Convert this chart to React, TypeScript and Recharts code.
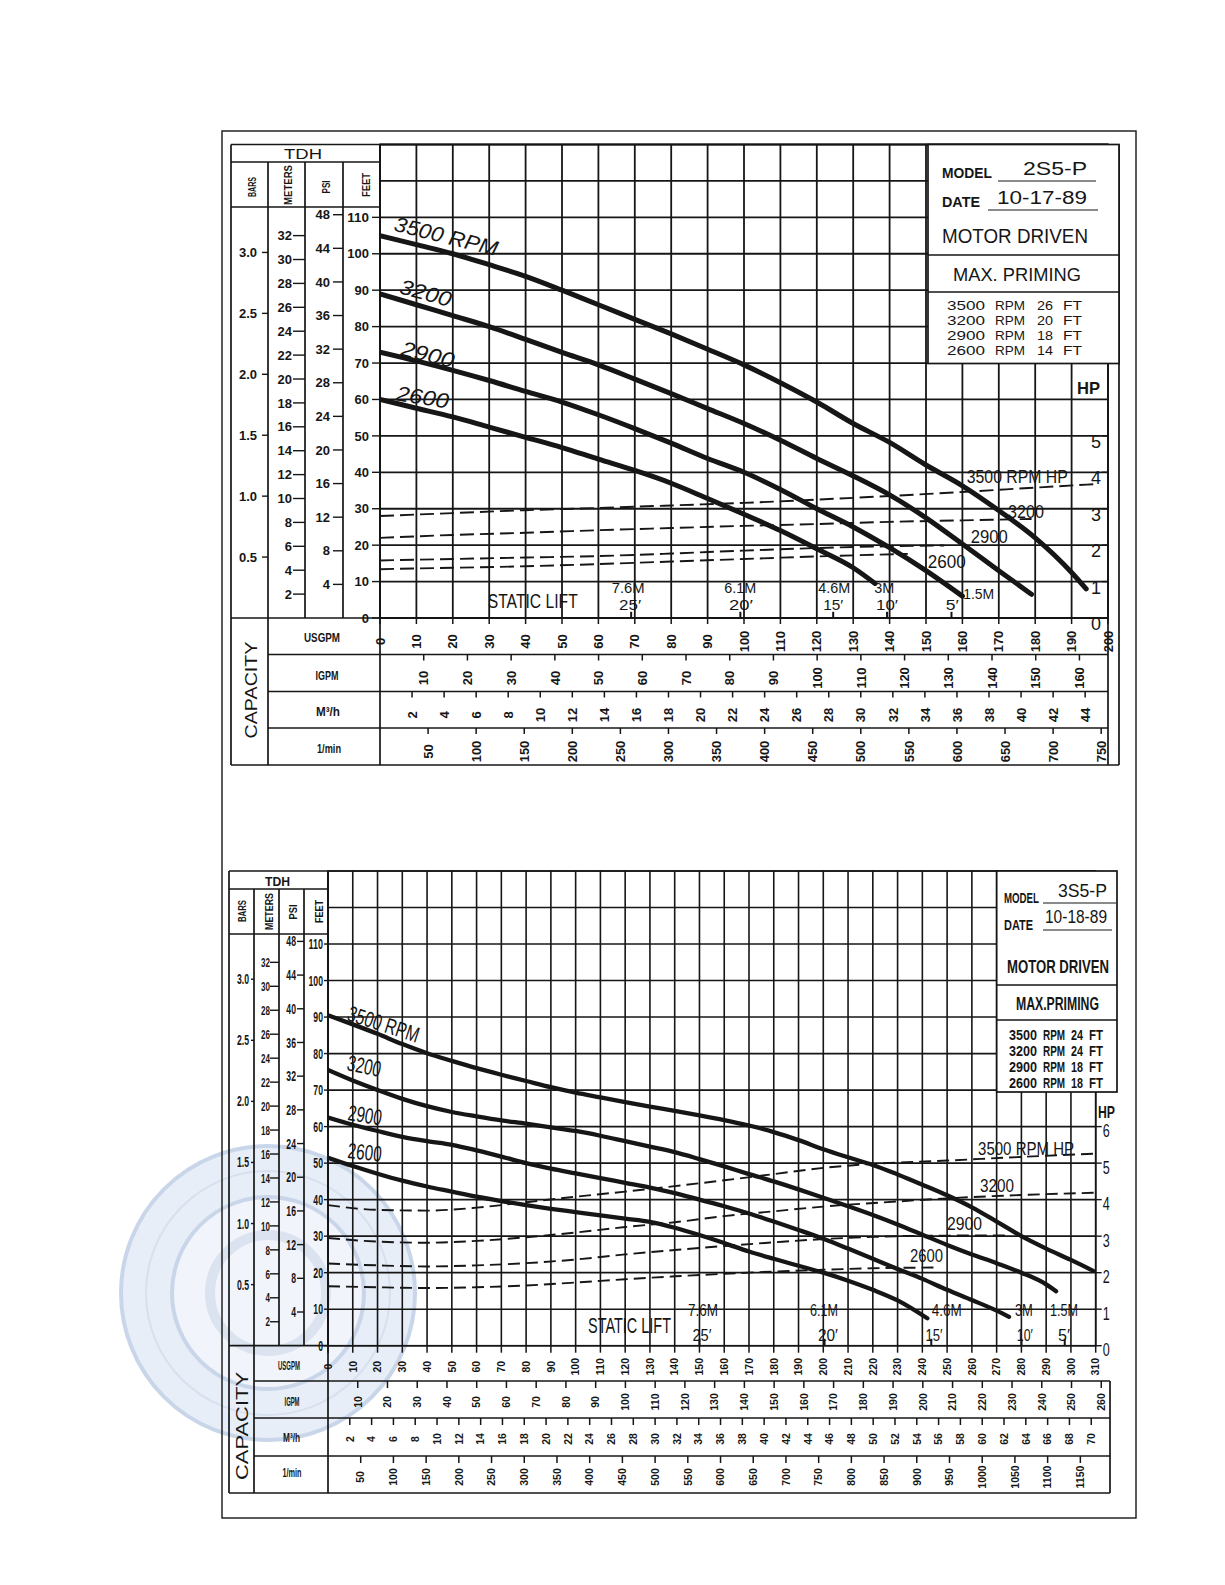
import React from "react";
import { ComposedChart, Line, XAxis, YAxis, CartesianGrid, ReferenceLine } from "recharts";

type Pt = [number, number];

const INK = "#161616";
const SANS = "'Liberation Sans', Arial, Helvetica, sans-serif";
const PAGE_W = 1225;
const PAGE_H = 1585;

// conversions behind the secondary scales
const FT_PER_PSI = 2.3067;
const FT_PER_M = 3.2808;
const FT_PER_BAR = 33.455;
const GPM_PER_IGPM = 1.20095;
const GPM_PER_M3H = 4.40287;
const GPM_PER_LMIN = 0.264172;

// TDH scales, same on both sheets
const feetTicks = [0, 10, 20, 30, 40, 50, 60, 70, 80, 90, 100, 110, 120, 130];
const psiTicks = [4, 8, 12, 16, 20, 24, 28, 32, 36, 40, 44, 48];
const meterTicks = [2, 4, 6, 8, 10, 12, 14, 16, 18, 20, 22, 24, 26, 28, 30, 32];
const barTicks = [0.5, 1.0, 1.5, 2.0, 2.5, 3.0];
const rpmNames = ["3500", "3200", "2900", "2600"];
const liftMeters = ["7.6M", "6.1M", "4.6M", "3M", "1.5M"];
const liftFeet = ["25′", "20′", "15′", "10′", "5′"];

// ---------- 2S5-P ----------
const usgpm2S5 = [0, 10, 20, 30, 40, 50, 60, 70, 80, 90, 100, 110, 120, 130, 140, 150, 160, 170, 180, 190, 200];
const igpm2S5 = [10, 20, 30, 40, 50, 60, 70, 80, 90, 100, 110, 120, 130, 140, 150, 160];
const m3h2S5 = [2, 4, 6, 8, 10, 12, 14, 16, 18, 20, 22, 24, 26, 28, 30, 32, 34, 36, 38, 40, 42, 44];
const lmin2S5 = [50, 100, 150, 200, 250, 300, 350, 400, 450, 500, 550, 600, 650, 700, 750];
const hpTicks2S5 = [0, 1, 2, 3, 4, 5];

const head3500_2S5: Pt[] = [[0, 105], [10, 102.5], [20, 100], [30, 97], [40, 93.8], [50, 90], [60, 86], [70, 82], [80, 78], [90, 73.8], [100, 69.5], [110, 64.6], [120, 59.3], [130, 53.4], [140, 48.2], [150, 42], [160, 36.3], [170, 29.5], [180, 22], [190, 12.5], [194, 8]];
const head3200_2S5: Pt[] = [[0, 89], [10, 86], [20, 83], [30, 80], [40, 76.5], [50, 72.9], [60, 69.5], [70, 65.6], [80, 61.6], [90, 57.5], [100, 53.4], [110, 48.8], [120, 43.8], [130, 39], [140, 33.8], [150, 27.5], [160, 20.3], [170, 13], [179, 6.5]];
const head2900_2S5: Pt[] = [[0, 73], [10, 70.6], [20, 68], [30, 65.2], [40, 62.2], [50, 59.3], [60, 55.8], [70, 52], [80, 48], [90, 43.8], [100, 40], [110, 35.3], [120, 30], [130, 25], [140, 19.3], [150, 13], [160, 6]];
const head2600_2S5: Pt[] = [[0, 60], [10, 57.6], [20, 55.2], [30, 52.4], [40, 49.6], [50, 46.8], [60, 43.6], [70, 40.5], [80, 37], [90, 32.8], [100, 28.5], [110, 24], [120, 19], [130, 13.8], [136, 9.5]];

const hp3500_2S5: Pt[] = [[0, 2.8], [20, 2.88], [40, 2.96], [60, 3.02], [80, 3.09], [100, 3.16], [120, 3.25], [140, 3.35], [160, 3.46], [180, 3.58], [197, 3.68]];
const hp3200_2S5: Pt[] = [[0, 2.2], [20, 2.28], [40, 2.34], [60, 2.41], [80, 2.47], [100, 2.53], [120, 2.58], [140, 2.64], [160, 2.68], [179, 2.72]];
const hp2900_2S5: Pt[] = [[0, 1.58], [20, 1.62], [40, 1.66], [60, 1.7], [80, 1.77], [100, 1.85], [120, 1.92], [140, 1.97], [155, 1.99]];
const hp2600_2S5: Pt[] = [[0, 1.34], [20, 1.38], [40, 1.42], [60, 1.48], [80, 1.55], [100, 1.62], [120, 1.69], [145, 1.76]];

const lift2S5 = [69, 99, 124.5, 139.3, 157];
const priming2S5 = [26, 20, 18, 14];

// ---------- 3S5-P ----------
const usgpm3S5 = [0, 10, 20, 30, 40, 50, 60, 70, 80, 90, 100, 110, 120, 130, 140, 150, 160, 170, 180, 190, 200, 210, 220, 230, 240, 250, 260, 270, 280, 290, 300, 310];
const igpm3S5 = [10, 20, 30, 40, 50, 60, 70, 80, 90, 100, 110, 120, 130, 140, 150, 160, 170, 180, 190, 200, 210, 220, 230, 240, 250, 260];
const m3h3S5 = [2, 4, 6, 8, 10, 12, 14, 16, 18, 20, 22, 24, 26, 28, 30, 32, 34, 36, 38, 40, 42, 44, 46, 48, 50, 52, 54, 56, 58, 60, 62, 64, 66, 68, 70];
const lmin3S5 = [50, 100, 150, 200, 250, 300, 350, 400, 450, 500, 550, 600, 650, 700, 750, 800, 850, 900, 950, 1000, 1050, 1100, 1150];
const hpTicks3S5 = [0, 1, 2, 3, 4, 5, 6];

const head3500_3S5: Pt[] = [[0, 90.5], [10, 88], [20, 85.4], [30, 82.6], [40, 80.1], [50, 78], [60, 76], [70, 74.2], [80, 72.5], [90, 70.8], [100, 69.3], [110, 68], [120, 66.7], [130, 65.5], [140, 64.3], [150, 63.1], [160, 61.8], [170, 60.3], [180, 58.5], [190, 56.3], [200, 53.8], [210, 51.6], [220, 49.5], [230, 46.9], [240, 44.1], [250, 41.2], [260, 37.9], [270, 34], [280, 30], [290, 26.6], [300, 23.5], [309, 20.5]];
const head3200_3S5: Pt[] = [[0, 75.5], [10, 72.6], [20, 70], [30, 67.6], [40, 65.6], [50, 64], [60, 62.8], [70, 61.7], [80, 60.8], [90, 59.8], [100, 58.8], [110, 57.5], [120, 56], [130, 54.5], [140, 53], [150, 51.1], [160, 49.1], [170, 47], [180, 45], [190, 42.8], [200, 40.5], [210, 38.2], [220, 35.8], [230, 33.2], [240, 30.4], [250, 27.6], [260, 25], [270, 22.6], [280, 20], [290, 16.8], [294, 14.9]];
const head2900_3S5: Pt[] = [[0, 62.5], [10, 60.5], [20, 58.8], [30, 57.2], [40, 56], [50, 55], [60, 53.5], [70, 51.8], [80, 50], [90, 48.5], [100, 47.2], [110, 45.9], [120, 44.6], [130, 43.3], [140, 41.8], [150, 40], [160, 38.2], [170, 36.2], [180, 34], [190, 31.7], [200, 29.3], [210, 26.6], [220, 23.8], [230, 21], [240, 18.3], [250, 15.3], [260, 12.5], [270, 9.6], [275, 7.9]];
const head2600_3S5: Pt[] = [[0, 51.5], [10, 49.2], [20, 47.1], [30, 45.2], [40, 43.6], [50, 42.2], [60, 40.8], [70, 39.6], [80, 38.5], [90, 37.5], [100, 36.6], [110, 35.7], [120, 34.8], [130, 33.9], [140, 32.3], [150, 30.3], [160, 28.1], [170, 25.8], [180, 23.8], [190, 21.9], [200, 20], [210, 17.8], [220, 15.3], [230, 12.4], [242, 7.5]];

const hp3500_3S5: Pt[] = [[0, 3.85], [20, 3.72], [40, 3.7], [60, 3.78], [80, 3.93], [100, 4.08], [120, 4.22], [140, 4.37], [160, 4.53], [180, 4.7], [200, 4.87], [220, 4.98], [250, 5.07], [280, 5.17], [310, 5.26]];
const hp3200_3S5: Pt[] = [[0, 2.95], [20, 2.85], [40, 2.82], [60, 2.87], [80, 2.97], [100, 3.1], [120, 3.25], [140, 3.38], [160, 3.55], [180, 3.68], [200, 3.81], [230, 3.95], [260, 4.07], [290, 4.15], [310, 4.19]];
const hp2900_3S5: Pt[] = [[0, 2.25], [20, 2.2], [40, 2.17], [60, 2.2], [80, 2.26], [100, 2.36], [120, 2.5], [140, 2.62], [160, 2.73], [180, 2.83], [200, 2.92], [220, 2.98], [240, 3.01], [275, 3.02]];
const hp2600_3S5: Pt[] = [[0, 1.63], [20, 1.6], [40, 1.58], [60, 1.6], [80, 1.65], [100, 1.73], [120, 1.82], [140, 1.9], [160, 1.97], [180, 2.03], [200, 2.08], [220, 2.12], [245, 2.14]];

const lift3S5 = [150, 200.5, 243.6, 280, 297.5];
const priming3S5 = [24, 24, 18, 18];

// ---------- sheet layouts (page pixels) ----------
const sheet2S5 = {
  model: "2S5-P", date: "10-17-89", maxPriming: "MAX. PRIMING",
  qMax: 200,
  usgpm: usgpm2S5, igpm: igpm2S5, m3h: m3h2S5, lmin: lmin2S5, hpTicks: hpTicks2S5,
  heads: [head3500_2S5, head3200_2S5, head2900_2S5, head2600_2S5],
  hps: [hp3500_2S5, hp3200_2S5, hp2900_2S5, hp2600_2S5],
  lift: lift2S5, priming: priming2S5,
  plot: { l: 380, r: 1108, t: 144.5, b: 618 },
  cols: [231, 268, 305, 343, 380],
  head: [144.5, 162, 207],
  rows: [618, 654.5, 691.5, 728, 765],
  rowRight: 1108, rightFrom: 0, edge: 1119,
  hpMirror: true, hpW: 30, hpGap: 7, hpDy: 12, hpFont: 18, hpSqueeze: 1,
  headW: 5, gridW: 1.8, dash: "14 6",
  leftFont: 13, meterFont: 13, squeeze: 1,
  leftSpec: [[8, 11], [10, 13], [12, 13], [6, 11]],
  rotFont: 13, rowTick: 6, rowLabelOff: 23.5,
  tdh: { x: 303, y: 158.5, w: 38, size: 14 },
  colLabels: [
    { x: 256, y: 187, w: 20 }, { x: 292, y: 185, w: 40 }, { x: 330, y: 187, w: 13 }, { x: 370, y: 185, w: 24 },
  ],
  colFont: 11.5,
  capacity: { x: 257, y: 690, w: 97, size: 17 },
  rowLabels: [
    { x: 322, y: 642, w: 36 }, { x: 327, y: 680, w: 23 }, { x: 328, y: 716, w: 24 }, { x: 329, y: 753, w: 24 },
  ],
  rowFont: 12.5,
  box: { l: 928, r: 1119, t: 144.5, b: 363.5, lines: [255, 292] },
  boxText: {
    modelLbl: { x: 942, y: 178, w: 50, size: 14 }, modelVal: { x: 1023, y: 175, w: 64, size: 18 }, u1: [998, 1096, 181],
    dateLbl: { x: 942, y: 207, w: 38, size: 14 }, dateVal: { x: 997, y: 204, w: 90, size: 18 }, u2: [988, 1098, 210],
    motor: { x: 942, y: 243, w: 146, size: 20, bold: false }, max: { x: 953, y: 281, w: 128, size: 19, bold: false },
    listY: [310, 325, 340, 355], listX: [947, 995, 1037, 1063], listW: [38, 30, 16, 19], listSize: 13.3, listBold: false,
    hp: { x: 1077, y: 394, w: 23, size: 17 },
  },
  curveLabels: [
    { q: 3.6, h: 106.4, rot: 14, w: 106 }, { q: 5, h: 89.2, rot: 15, w: 53 }, { q: 5.5, h: 72.2, rot: 14, w: 54 }, { q: 4.2, h: 59.8, rot: 9, w: 53 },
  ],
  curveFont: 21, curveItalic: true,
  hpLabels: [
    { q: 161.2, h: 37.1, w: 101 }, { q: 172.5, h: 27.4, w: 36 }, { q: 162.3, h: 20.6, w: 37 }, { q: 150.5, h: 13.7, w: 38 },
  ],
  hpLabelFont: 19,
  staticLift: { q: 29.6, h: 2.7, w: 90, size: 15.3, sy: 1.37 },
  liftM: [
    { q: 68.2, h: 7, w: 33, a: "middle" }, { q: 99, h: 7, w: 32, a: "middle" }, { q: 124.8, h: 7, w: 32, a: "middle" },
    { q: 138.5, h: 7, w: 20, a: "middle" }, { q: 160.2, h: 5.1, w: 31, a: "start" },
  ],
  liftF: [
    { q: 68.7, h: 2.1, w: 22 }, { q: 99.2, h: 2.1, w: 24 }, { q: 124.5, h: 2.1, w: 20 }, { q: 139.3, h: 2.1, w: 22 }, { q: 157.2, h: 2.1, w: 13 },
  ],
  liftFont: 15, liftTick: 1.7,
};

const sheet3S5 = {
  model: "3S5-P", date: "10-18-89", maxPriming: "MAX.PRIMING",
  qMax: 310,
  usgpm: usgpm3S5, igpm: igpm3S5, m3h: m3h3S5, lmin: lmin3S5, hpTicks: hpTicks3S5,
  heads: [head3500_3S5, head3200_3S5, head2900_3S5, head2600_3S5],
  hps: [hp3500_3S5, hp3200_3S5, hp2900_3S5, hp2600_3S5],
  lift: lift3S5, priming: priming3S5,
  plot: { l: 328, r: 1095.7, t: 871, b: 1345.7 },
  cols: [229, 254, 279, 304, 328],
  head: [871, 889, 934],
  rows: [1345.7, 1381, 1418, 1456, 1493],
  rowRight: 1110, rightFrom: 1, edge: 0,
  hpMirror: false, hpW: 22, hpGap: 7, hpDy: 10.5, hpFont: 18, hpSqueeze: 0.7,
  headW: 4.3, gridW: 1.6, dash: "12 6",
  leftFont: 14, meterFont: 13, squeeze: 0.62,
  leftSpec: [[4, 5], [7, 8], [9, 9], [3, 5]],
  rotFont: 10.5, rowTick: 7, rowLabelOff: 21,
  tdh: { x: 277.5, y: 886, w: 25, size: 13 },
  colLabels: [
    { x: 246, y: 911, w: 22 }, { x: 273, y: 911.5, w: 37 }, { x: 297, y: 912, w: 15 }, { x: 323, y: 911.5, w: 23 },
  ],
  colFont: 10.5,
  capacity: { x: 248, y: 1426, w: 108, size: 16 },
  rowLabels: [
    { x: 289, y: 1370, w: 22 }, { x: 292, y: 1406, w: 15 }, { x: 291.5, y: 1442, w: 17 }, { x: 292, y: 1477, w: 19 },
  ],
  rowFont: 12.5,
  box: { l: 996.7, r: 1117, t: 871, b: 1092, lines: [985, 1020] },
  boxText: {
    modelLbl: { x: 1004, y: 903, w: 35, size: 14 }, modelVal: { x: 1058, y: 897, w: 49, size: 18 }, u1: [1043, 1116, 903],
    dateLbl: { x: 1004, y: 930, w: 29, size: 14 }, dateVal: { x: 1045, y: 923, w: 62, size: 18 }, u2: [1043, 1112, 930],
    motor: { x: 1007, y: 973, w: 102, size: 19, bold: true }, max: { x: 1016, y: 1010, w: 83, size: 18, bold: true },
    listY: [1040, 1056, 1072, 1088], listX: [1009, 1043, 1071, 1089], listW: [28, 22, 12, 14], listSize: 14, listBold: true,
    hp: { x: 1098, y: 1118, w: 17, size: 17 },
  },
  curveLabels: [
    { q: 7.3, h: 89.2, rot: 18, w: 74 }, { q: 7.3, h: 75.5, rot: 12, w: 34 }, { q: 7.7, h: 61.8, rot: 9, w: 34 }, { q: 7.7, h: 51.4, rot: 6, w: 34 },
  ],
  curveFont: 22, curveItalic: false,
  hpLabels: [
    { q: 262.5, h: 52.2, w: 96 }, { q: 263.3, h: 42, w: 34 }, { q: 250, h: 31.7, w: 35 }, { q: 235, h: 22.9, w: 33 },
  ],
  hpLabelFont: 19,
  staticLift: { q: 105, h: 3.5, w: 83, size: 14, sy: 1.57 },
  liftM: [
    { q: 151.4, h: 8, w: 30, a: "middle" }, { q: 200.3, h: 8, w: 28, a: "middle" }, { q: 249.9, h: 8, w: 30, a: "middle" },
    { q: 281, h: 8, w: 18, a: "middle" }, { q: 297.2, h: 8, w: 28, a: "middle" },
  ],
  liftF: [
    { q: 151, h: 1.2, w: 19 }, { q: 201.9, h: 1.2, w: 20 }, { q: 244.7, h: 1.2, w: 17 }, { q: 281.4, h: 1.2, w: 16 }, { q: 297.2, h: 1.2, w: 12 },
  ],
  liftFont: 16, liftTick: 1.9,
};

type SheetCfg = typeof sheet2S5;

const pts = (c: Pt[]) => c.map(([q, v]) => ({ q, v }));

function textW(s: string, size: number) {
  let w = 0;
  for (const c of s) w += c === "." ? 0.278 : 0.556;
  return w * size;
}

function LeftTick(props: any) {
  const { y, payload, lineX, len, gap, size, squeeze, fmt, limit } = props;
  if (payload.value > limit) return <g />;
  const label = fmt(payload.value);
  return (
    <g>
      <line x1={lineX - len} x2={lineX} y1={y} y2={y} stroke={INK} strokeWidth={1.4} />
      <text x={lineX - gap} y={y} dy="0.36em" textAnchor="end" fontFamily={SANS} fontWeight="bold"
        fontSize={size} fill={INK} textLength={textW(label, size) * squeeze} lengthAdjust="spacingAndGlyphs">
        {label}
      </text>
    </g>
  );
}

// capacity rows: tick value is in USGPM, the label is shown in the row's own unit
function RowTick(props: any) {
  const { x, payload, y0, s, per } = props;
  const cap = s.rotFont * 0.72;
  const label = String(Math.round(payload.value / per));
  return (
    <g>
      <line x1={x} x2={x} y1={y0} y2={y0 + s.rowTick} stroke={INK} strokeWidth={1.5} />
      <text transform={`translate(${x + cap / 2} ${y0 + s.rowLabelOff}) rotate(-90)`} textAnchor="middle"
        fontFamily={SANS} fontWeight="bold" fontSize={s.rotFont} fill={INK}>
        {label}
      </text>
    </g>
  );
}

function HpTick(props: any) {
  const { y, payload, s } = props;
  const x = s.plot.r;
  const d = s.hpMirror ? -1 : 1;
  const label = String(payload.value);
  return (
    <g>
      <line x1={x} x2={x + d * 6} y1={y} y2={y} stroke={INK} strokeWidth={1.4} />
      <text x={x + d * s.hpGap} y={y + s.hpDy} textAnchor={s.hpMirror ? "end" : "start"} fontFamily={SANS}
        fontSize={s.hpFont} fill={INK} textLength={textW(label, s.hpFont) * s.hpSqueeze} lengthAdjust="spacingAndGlyphs">
        {label}
      </text>
    </g>
  );
}

function Sheet({ s }: { s: SheetCfg }) {
  const { plot, rows, cols } = s;
  const height = Math.ceil(rows[4] + 8);
  const rowH = [rows[1] - rows[0], rows[2] - rows[1], rows[3] - rows[2], rows[4] - rows[3]];
  const colW = [cols[4] - cols[3], cols[3] - cols[2], cols[2] - cols[1], cols[1] - cols[0]];
  const lineX = [cols[4], cols[3], cols[2], cols[1]];
  const margin = {
    top: plot.t,
    left: cols[0],
    right: PAGE_W - plot.r - (s.hpMirror ? 0 : s.hpW),
    bottom: height - rows[4],
  };
  const leftAxes = [
    { id: "ft", max: 130, ticks: feetTicks, fmt: (v: number) => String(v), limit: 110 },
    { id: "psi", max: 130 / FT_PER_PSI, ticks: psiTicks, fmt: (v: number) => String(v), limit: 99 },
    { id: "m", max: 130 / FT_PER_M, ticks: meterTicks, fmt: (v: number) => String(v), limit: 99 },
    { id: "bar", max: 130 / FT_PER_BAR, ticks: barTicks, fmt: (v: number) => v.toFixed(1), limit: 9 },
  ];
  const bottomAxes = [
    { id: "q", per: 1, ticks: s.usgpm },
    { id: "ig", per: GPM_PER_IGPM, ticks: s.igpm },
    { id: "m3", per: GPM_PER_M3H, ticks: s.m3h },
    { id: "lm", per: GPM_PER_LMIN, ticks: s.lmin },
  ];
  const span = [{ q: 0, v: 0 }, { q: s.qMax, v: 0 }];

  return (
    <div style={{ position: "absolute", left: 0, top: 0 }}>
      <ComposedChart width={PAGE_W} height={height} margin={margin}>
        {bottomAxes.map((a, i) => (
          <XAxis key={a.id} xAxisId={a.id} dataKey="q" type="number" domain={[0, s.qMax]}
            ticks={a.ticks.map((t) => t * a.per)} interval={0} height={rowH[i]} allowDataOverflow
            axisLine={false} tickLine={false} tickSize={0} tickMargin={0}
            tick={(p: any) => <RowTick {...p} y0={rows[i]} s={s} per={a.per} />} />
        ))}
        {leftAxes.map((a, i) => (
          <YAxis key={a.id} yAxisId={a.id} type="number" domain={[0, a.max]} ticks={a.ticks} interval={0}
            width={colW[i]} allowDataOverflow={i > 0} axisLine={false} tickLine={false} tickSize={0} tickMargin={0}
            tick={(p: any) => (
              <LeftTick {...p} lineX={lineX[i]} len={s.leftSpec[i][0]} gap={s.leftSpec[i][1]}
                size={i === 2 ? s.meterFont : s.leftFont} squeeze={s.squeeze} fmt={a.fmt} limit={a.limit} />
            )} />
        ))}
        <YAxis yAxisId="hp" orientation="right" mirror={s.hpMirror} type="number" domain={[0, 13]}
          ticks={s.hpTicks} interval={0} width={s.hpW} axisLine={false} tickLine={false} tickSize={0}
          tickMargin={0} tick={(p: any) => <HpTick {...p} s={s} />} />
        <CartesianGrid xAxisId="q" yAxisId="ft" stroke={INK} strokeWidth={s.gridW} fill="none" />

        {/* invisible spans so every capacity row has a scale */}
        {bottomAxes.slice(1).map((a) => (
          <Line key={"span" + a.id} xAxisId={a.id} yAxisId="ft" data={span} dataKey="v" stroke="none"
            dot={false} activeDot={false} isAnimationActive={false} />
        ))}
        {s.hps.map((c, i) => (
          <Line key={"hp" + i} xAxisId="q" yAxisId="hp" data={pts(c)} dataKey="v" type="monotone" stroke={INK}
            strokeWidth={1.9} strokeDasharray={s.dash} dot={false} activeDot={false} isAnimationActive={false} />
        ))}
        {s.heads.map((c, i) => (
          <Line key={"hd" + i} xAxisId="q" yAxisId="ft" data={pts(c)} dataKey="v" type="monotone" stroke={INK}
            strokeWidth={s.headW} strokeLinecap="round" dot={false} activeDot={false} isAnimationActive={false} />
        ))}
        {s.lift.map((q, i) => (
          <ReferenceLine key={"lf" + i} xAxisId="q" yAxisId="ft" segment={[{ x: q, y: 0 }, { x: q, y: s.liftTick }]}
            stroke={INK} strokeWidth={2} ifOverflow="visible" />
        ))}
      </ComposedChart>
    </div>
  );
}

function Tx(props: any) {
  const { x, y, w, size, bold, italic, anchor = "start", rot = 0, sy = 1, children } = props;
  const tf = sy !== 1 ? `translate(${x} ${y}) rotate(${rot}) scale(1 ${sy})` : rot ? `rotate(${rot} ${x} ${y})` : undefined;
  return (
    <text x={sy !== 1 ? 0 : x} y={sy !== 1 ? 0 : y} fontSize={size} fontWeight={bold ? "bold" : "normal"}
      fontStyle={italic ? "italic" : "normal"} textAnchor={anchor} textLength={w} lengthAdjust="spacingAndGlyphs"
      transform={tf} fill={INK} fontFamily={SANS}>
      {children}
    </text>
  );
}

function Overlay({ s }: { s: SheetCfg }) {
  const { plot, rows, cols, head, box, boxText: bt } = s;
  const gx = (q: number) => plot.l + (q / s.qMax) * (plot.r - plot.l);
  const gy = (h: number) => plot.b - (h / 130) * (plot.b - plot.t);
  const bottomRight = s.edge || s.rowRight;
  const segs: number[][] = [
    [cols[0], head[0], cols[0], rows[4]],
    [cols[0], head[0], cols[4], head[0]],
    [cols[0], head[1], cols[4], head[1]],
    [cols[0], head[2], cols[4], head[2]],
    [cols[1], head[1], cols[1], rows[0]],
    [cols[2], head[1], cols[2], rows[0]],
    [cols[3], head[1], cols[3], rows[0]],
    [cols[4], head[0], cols[4], rows[4]],
    [cols[0], rows[0], cols[4], rows[0]],
    [cols[1], rows[0], cols[1], rows[4]],
    [cols[1], rows[1], s.rowRight, rows[1]],
    [cols[1], rows[2], s.rowRight, rows[2]],
    [cols[1], rows[3], s.rowRight, rows[3]],
    [cols[0], rows[4], bottomRight, rows[4]],
    [s.rowRight, rows[s.rightFrom], s.rowRight, rows[4]],
  ];
  if (s.edge) segs.push([s.edge, head[0], s.edge, rows[4]]);
  const colNames = ["BARS", "METERS", "PSI", "FEET"];
  const rowNames = ["USGPM", "IGPM", "M³/h", "1/min"];
  const sl = s.staticLift;
  return (
    <g>
      <rect x={plot.l} y={plot.t} width={plot.r - plot.l} height={plot.b - plot.t} fill="none" stroke={INK} strokeWidth={s.gridW} />
      {segs.map((g, i) => (
        <line key={i} x1={g[0]} y1={g[1]} x2={g[2]} y2={g[3]} stroke={INK} strokeWidth={1.7} />
      ))}
      <Tx x={s.tdh.x} y={s.tdh.y} w={s.tdh.w} size={s.tdh.size} anchor="middle" bold={s.qMax > 200}>TDH</Tx>
      {s.colLabels.map((c, i) => (
        <Tx key={i} x={c.x} y={c.y} w={c.w} size={s.colFont} anchor="middle" rot={-90} bold>{colNames[i]}</Tx>
      ))}
      <Tx x={s.capacity.x} y={s.capacity.y} w={s.capacity.w} size={s.capacity.size} anchor="middle" rot={-90}>CAPACITY</Tx>
      {s.rowLabels.map((c, i) => (
        <Tx key={i} x={c.x} y={c.y} w={c.w} size={s.rowFont} anchor="middle" bold>{rowNames[i]}</Tx>
      ))}

      <rect x={box.l} y={box.t} width={box.r - box.l} height={box.b - box.t} fill="#fff" stroke={INK} strokeWidth={1.7} />
      {box.lines.map((y, i) => (
        <line key={i} x1={box.l} x2={box.r} y1={y} y2={y} stroke={INK} strokeWidth={1.7} />
      ))}
      <Tx {...bt.modelLbl} bold>MODEL</Tx>
      <Tx {...bt.modelVal}>{s.model}</Tx>
      <line x1={bt.u1[0]} x2={bt.u1[1]} y1={bt.u1[2]} y2={bt.u1[2]} stroke={INK} strokeWidth={1.2} />
      <Tx {...bt.dateLbl} bold>DATE</Tx>
      <Tx {...bt.dateVal}>{s.date}</Tx>
      <line x1={bt.u2[0]} x2={bt.u2[1]} y1={bt.u2[2]} y2={bt.u2[2]} stroke={INK} strokeWidth={1.2} />
      <Tx {...bt.motor}>MOTOR DRIVEN</Tx>
      <Tx {...bt.max}>{s.maxPriming}</Tx>
      {rpmNames.map((r, i) => {
        const words = [r, "RPM", String(s.priming[i]), "FT"];
        return words.map((wd, j) => (
          <Tx key={r + j} x={bt.listX[j]} y={bt.listY[i]} w={bt.listW[j]} size={bt.listSize} bold={bt.listBold}>{wd}</Tx>
        ));
      })}
      <Tx {...bt.hp} bold>HP</Tx>

      {s.curveLabels.map((c, i) => (
        <Tx key={i} x={gx(c.q)} y={gy(c.h)} w={c.w} size={s.curveFont} rot={c.rot} italic={s.curveItalic}>
          {i === 0 ? "3500 RPM" : rpmNames[i]}
        </Tx>
      ))}
      {s.hpLabels.map((c, i) => (
        <Tx key={i} x={gx(c.q)} y={gy(c.h)} w={c.w} size={s.hpLabelFont}>{i === 0 ? "3500 RPM HP" : rpmNames[i]}</Tx>
      ))}
      <Tx x={gx(sl.q)} y={gy(sl.h)} w={sl.w} size={sl.size} sy={sl.sy}>STATIC LIFT</Tx>
      {s.liftM.map((c, i) => (
        <Tx key={i} x={gx(c.q)} y={gy(c.h)} w={c.w} size={s.liftFont} anchor={c.a}>{liftMeters[i]}</Tx>
      ))}
      {s.liftF.map((c, i) => (
        <Tx key={i} x={gx(c.q)} y={gy(c.h)} w={c.w} size={s.liftFont} anchor="middle">{liftFeet[i]}</Tx>
      ))}
    </g>
  );
}

// faint circular watermark behind the lower sheet
function Watermark() {
  const cx = 268;
  const cy = 1293;
  return (
    <svg width={PAGE_W} height={PAGE_H} style={{ position: "absolute", left: 0, top: 0 }}>
      <circle cx={cx} cy={cy} r={147} fill="#e8eef7" stroke="#c9d6ea" strokeWidth={4} />
      <circle cx={cx} cy={cy} r={122} fill="none" stroke="#d6e0ef" strokeWidth={2} />
      <circle cx={cx} cy={cy} r={96} fill="#f1f4fa" stroke="#c9d6ea" strokeWidth={4} />
      <circle cx={cx} cy={cy} r={58} fill="none" stroke="#dbe3f0" strokeWidth={10} />
    </svg>
  );
}

export default function App() {
  return (
    <div style={{ position: "absolute", left: 0, top: 0, width: PAGE_W, height: PAGE_H, background: "#fff", overflow: "hidden" }}>
      <Watermark />
      <Sheet s={sheet2S5} />
      <Sheet s={sheet3S5 as SheetCfg} />
      <svg width={PAGE_W} height={PAGE_H} style={{ position: "absolute", left: 0, top: 0, pointerEvents: "none" }}>
        <rect x={222} y={131} width={914} height={1387} fill="none" stroke={INK} strokeWidth={1.4} />
        <Overlay s={sheet2S5} />
        <Overlay s={sheet3S5 as SheetCfg} />
      </svg>
    </div>
  );
}
